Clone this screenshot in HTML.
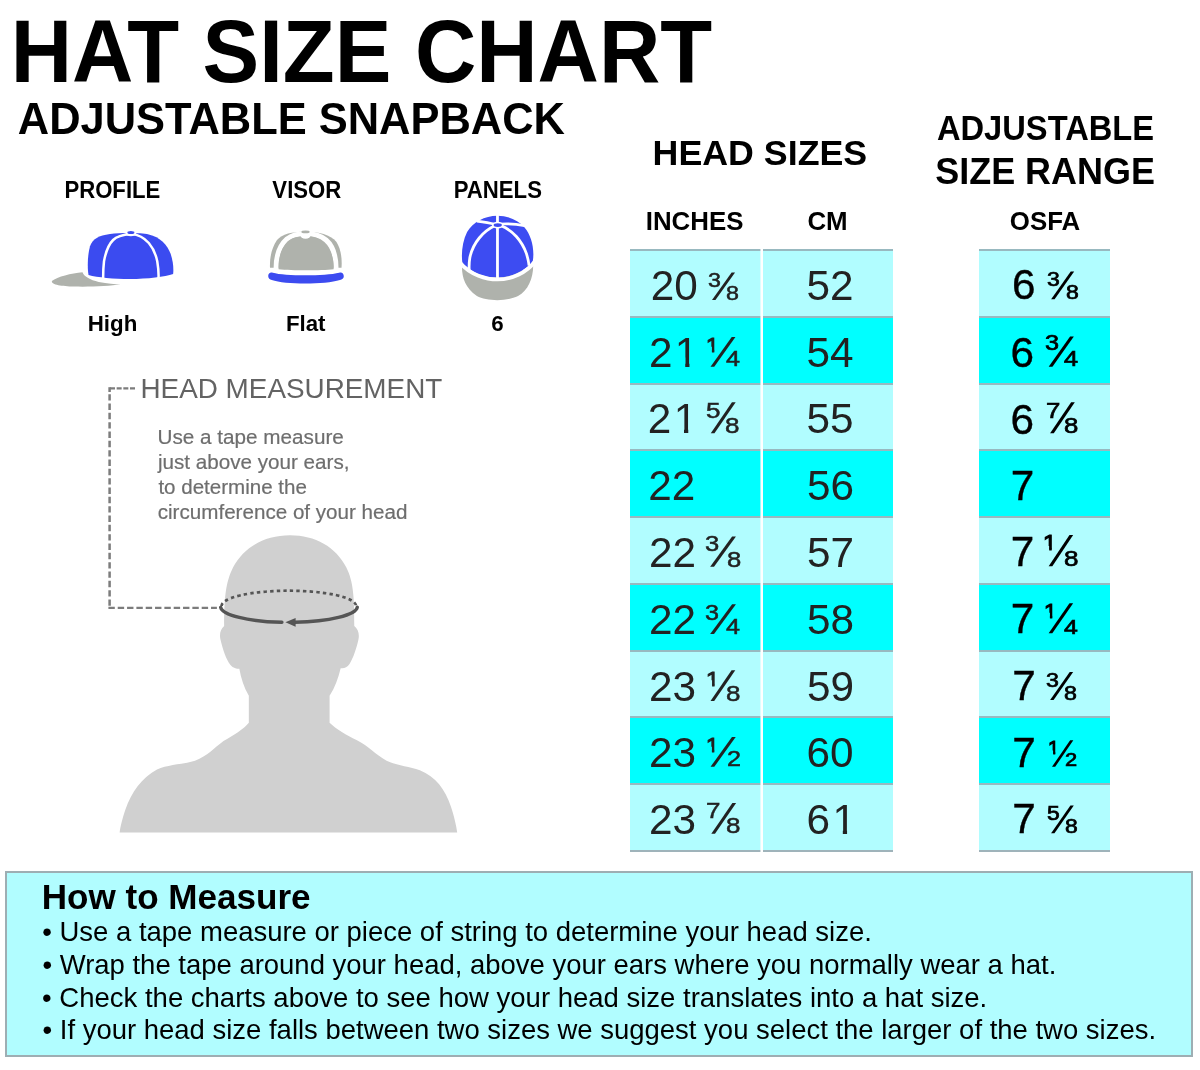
<!DOCTYPE html>
<html>
<head>
<meta charset="utf-8">
<title>Hat Size Chart</title>
<style>
html,body{margin:0;padding:0;background:#fff;}
body{width:1200px;height:1070px;position:relative;overflow:hidden;font-family:"Liberation Sans",sans-serif;color:#000;}
.t{position:absolute;white-space:nowrap;line-height:1;transform-origin:0 0;}
.b{font-weight:bold;}
.cell{position:absolute;border-top:2px solid #98b9c0;}
.cellb{position:absolute;height:2px;background:#9fb3ba;}
.l{background:#b1fdff;}
.d{background:#00ffff;}
.one{display:inline-block;position:relative;left:2.3px;clip-path:polygon(0 0,0.346em 0,0.346em 1em,0.246em 1em,0.246em 0.6em,0 0.6em);}
.onef{left:0;}
.fr{width:.834em;height:1em;}
.fr span{position:absolute;top:0;line-height:1;}
.fr .s1{clip-path:polygon(0 0,0.213em 0,0.213em 1em,0.135em 1em,0.135em 0.42em,0 0.42em);}
.fr .sl{left:0.3716em;}
.fr .dn{top:0.2739em;}
.fd{transform:scaleX(1.18);-webkit-text-stroke:0.5px;}
#page{position:absolute;left:0;top:0;width:1200px;height:1070px;will-change:transform;}
#box{position:absolute;left:5px;top:871px;width:1184px;height:182px;background:#b1fdff;border:2px solid #9eaeb3;}
</style>
</head>

<body>
<div id="page">
<svg id="gfx" width="1200" height="1070" viewBox="0 0 1200 1070" style="position:absolute;left:0;top:0;">
<!-- PROFILE icon: zoomed coords (8x) origin 40,220 -->
<g transform="translate(40,220) scale(0.125)">
  <path d="M95,487 C140,455 250,425 340,418 C350,450 400,480 470,495 C540,508 600,512 645,514 C560,528 400,536 270,532 C180,528 90,520 95,487 Z" fill="#afb2ac"/>
  <path d="M388,440 C378,380 380,280 400,210 C420,150 470,125 560,112 C640,102 800,100 870,115 C960,135 1020,200 1045,270 C1065,330 1070,390 1065,432 C1000,455 860,472 720,472 C590,472 460,460 388,440 Z" fill="#3b4bf0"/>
  <path d="M725,112 C660,118 610,135 585,160 C550,195 525,260 512,330 C506,380 505,430 505,468" fill="none" stroke="#fff" stroke-width="20"/>
  <path d="M730,110 C850,125 915,220 938,330 C948,390 950,430 948,466" fill="none" stroke="#fff" stroke-width="20"/>
  <ellipse cx="727" cy="108" rx="42" ry="22" fill="#fff"/>
  <ellipse cx="727" cy="100" rx="28" ry="12" fill="#3b4bf0"/>
</g>
<!-- VISOR icon: zoomed coords (10x) origin 245,220 -->
<g transform="translate(245,220) scale(0.1)">
  <path d="M250,478 C245,380 265,280 320,200 C370,140 470,118 605,118 C740,118 850,145 915,220 C960,290 972,390 965,478 Z" fill="#afb2ac"/>
  <path d="M312,520 C305,380 340,260 420,190 C470,150 540,135 605,135 C680,135 750,150 810,200 C890,270 915,390 910,520" fill="none" stroke="#fff" stroke-width="50"/>
  <path d="M336,492 C332,390 355,290 425,215 C470,175 520,165 560,170 C640,165 700,165 650,170 C700,165 760,190 810,250 C870,320 892,410 886,492 C760,506 470,506 336,492 Z" fill="#afb2ac"/>
  <ellipse cx="605" cy="142" rx="55" ry="46" fill="#fff"/>
  <ellipse cx="605" cy="119" rx="42" ry="13" fill="#afb2ac"/>
  <path d="M232,560 C232,530 255,518 278,527 C400,562 800,562 942,527 C965,518 988,530 988,562 C988,585 970,594 950,600 C800,647 400,647 268,600 C248,594 232,585 232,560 Z" fill="#3c4bf0"/>
</g>
<!-- PANELS icon: zoomed coords (10.7x) origin 447,205 -->
<g transform="translate(447,205) scale(0.09346)">
  <path d="M160,660 C160,780 200,890 320,975 C420,1030 640,1035 760,975 C870,915 925,780 922,640 C800,760 300,790 160,660 Z" fill="#afb2ac"/>
  <path d="M540,115 C400,118 280,180 215,290 C165,390 150,520 165,625 C260,730 420,775 540,775 C680,775 840,710 918,600 C940,470 900,320 830,240 C760,160 650,115 540,115 Z" fill="#3d4cf2"/>
  <path d="M140,618 C250,750 420,797 540,797 C690,797 850,728 945,600" fill="none" stroke="#fff" stroke-width="40"/>
  <path d="M540,100 L540,790" stroke="#fff" stroke-width="30" fill="none"/>
  <path d="M505,225 C390,280 280,400 245,560 C235,620 235,660 238,700" stroke="#fff" stroke-width="30" fill="none"/>
  <path d="M585,225 C700,270 800,380 850,520 C865,570 875,610 878,650" stroke="#fff" stroke-width="30" fill="none"/>
  <path d="M515,207 C460,192 400,182 320,172" stroke="#fff" stroke-width="30" fill="none"/>
  <path d="M572,204 C650,198 730,200 830,222" stroke="#fff" stroke-width="28" fill="none"/>
  <ellipse cx="543" cy="215" rx="62" ry="36" fill="#fff"/>
  <ellipse cx="543" cy="215" rx="44" ry="21" fill="#3d4cf2"/>
</g>
<!-- HEAD silhouette: zoomed coords (3.158x) origin 100,520 -->
<g transform="translate(100,520) scale(0.31667)">
  <path d="M600,48 C520,48 455,85 420,150 C398,195 392,240 392,335 C380,345 376,362 381,380 C388,410 398,440 412,458 C420,468 432,470 440,470 C445,500 455,530 470,555 L470,640 C455,660 420,680 390,698 C360,720 340,745 300,760 C260,772 215,772 180,788 C130,815 100,860 80,915 C70,945 64,970 62,987 L1128,987 C1125,965 1118,935 1108,905 C1090,850 1060,810 1010,790 C975,778 935,775 905,760 C870,742 850,715 810,695 C780,680 745,660 725,640 L725,555 C742,530 752,500 760,468 C770,470 780,466 788,455 C800,435 810,405 816,378 C820,360 815,345 803,335 C803,240 800,195 778,150 C745,85 680,48 600,48 Z" fill="#d0d0d0"/>
</g>
<!-- leader dashed line -->
<g fill="none" stroke="#7c7c7c" stroke-width="2.3">
<path d="M135,388.3 H108.4" stroke-dasharray="5,1.67"/>
<path d="M109.6,387.2 V392" stroke-width="2.5"/>
<path d="M109.6,394.2 V606.4" stroke-width="2.5" stroke-dasharray="6.4,2.93"/>
<path d="M108.4,607.8 H216.9" stroke-dasharray="6.4,2.93"/>
</g>
<!-- measuring ellipse -->
<path d="M221.6,606.2 A67.2,15.2 0 0 1 356,605.6" fill="none" stroke="#555" stroke-width="2.7" stroke-dasharray="3.4,3.2"/>
<path d="M220.7,607.3 A68.4,15.8 0 0 0 281.9,622.3" fill="none" stroke="#555" stroke-width="3.4" stroke-linecap="round"/>
<path d="M357.3,607.1 A68.4,15.8 0 0 1 295,622.2" fill="none" stroke="#555" stroke-width="3.4" stroke-linecap="round"/>
<path d="M285.4,622.3 L295.6,617.9 L295.6,626.7 Z" fill="#555"/>
</svg>

<div class="cell l" style="left:630px;top:249px;width:131px;height:65px;"></div>
<div class="cell l" style="left:763px;top:249px;width:130px;height:65px;"></div>
<div class="cell l" style="left:979px;top:249px;width:131px;height:65px;"></div>
<div class="cell d" style="left:630px;top:316px;width:131px;height:65px;"></div>
<div class="cell d" style="left:763px;top:316px;width:130px;height:65px;"></div>
<div class="cell d" style="left:979px;top:316px;width:131px;height:65px;"></div>
<div class="cell l" style="left:630px;top:383px;width:131px;height:64px;"></div>
<div class="cell l" style="left:763px;top:383px;width:130px;height:64px;"></div>
<div class="cell l" style="left:979px;top:383px;width:131px;height:64px;"></div>
<div class="cell d" style="left:630px;top:449px;width:131px;height:65px;"></div>
<div class="cell d" style="left:763px;top:449px;width:130px;height:65px;"></div>
<div class="cell d" style="left:979px;top:449px;width:131px;height:65px;"></div>
<div class="cell l" style="left:630px;top:516px;width:131px;height:65px;"></div>
<div class="cell l" style="left:763px;top:516px;width:130px;height:65px;"></div>
<div class="cell l" style="left:979px;top:516px;width:131px;height:65px;"></div>
<div class="cell d" style="left:630px;top:583px;width:131px;height:65px;"></div>
<div class="cell d" style="left:763px;top:583px;width:130px;height:65px;"></div>
<div class="cell d" style="left:979px;top:583px;width:131px;height:65px;"></div>
<div class="cell l" style="left:630px;top:650px;width:131px;height:64px;"></div>
<div class="cell l" style="left:763px;top:650px;width:130px;height:64px;"></div>
<div class="cell l" style="left:979px;top:650px;width:131px;height:64px;"></div>
<div class="cell d" style="left:630px;top:716px;width:131px;height:65px;"></div>
<div class="cell d" style="left:763px;top:716px;width:130px;height:65px;"></div>
<div class="cell d" style="left:979px;top:716px;width:131px;height:65px;"></div>
<div class="cell l" style="left:630px;top:783px;width:131px;height:65px;"></div>
<div class="cell l" style="left:763px;top:783px;width:130px;height:65px;"></div>
<div class="cell l" style="left:979px;top:783px;width:131px;height:65px;"></div>
<div class="cellb" style="left:630px;top:850px;width:131px;"></div>
<div class="cellb" style="left:763px;top:850px;width:130px;"></div>
<div class="cellb" style="left:979px;top:850px;width:131px;"></div>
<div style="position:absolute;left:760px;top:249px;width:1px;height:603px;background:rgba(255,255,255,.55);"></div>
<div id="box"></div>
<div class="t b" id="title" style="left:10.8px;top:7.75px;font-size:84.93px;transform:scale(1.0,1.0458);">HAT SIZE CHART</div>
<div class="t b" id="sub" style="left:17.79px;top:96.58px;font-size:43.46px;transform:scale(1.0,1.0293);">ADJUSTABLE SNAPBACK</div>
<div class="t b" id="profile" style="left:64.4px;top:178.6px;font-size:22.15px;transform:scale(1.0,1.048);">PROFILE</div>
<div class="t b" id="visor" style="left:272.37px;top:178.6px;font-size:22.15px;transform:scale(1.0,1.048);">VISOR</div>
<div class="t b" id="panels" style="left:453.75px;top:178.6px;font-size:22.15px;transform:scale(1.0,1.048);">PANELS</div>
<div class="t b" id="high" style="left:87.76px;top:313.2px;font-size:22.3px;">High</div>
<div class="t b" id="flat" style="left:285.92px;top:313.2px;font-size:22.3px;">Flat</div>
<div class="t b" id="six" style="left:491.35px;top:313.2px;font-size:22.3px;">6</div>
<div class="t" id="hm" style="left:140.46px;top:375.06px;font-size:27.87px;transform:scale(1.0,1.015);color:#636363;">HEAD MEASUREMENT</div>
<div class="t" id="d1" style="left:157.62px;top:427.1px;font-size:20.68px;color:#6e6e6e;-webkit-text-stroke:0.2px;">Use a tape measure</div>
<div class="t" id="d2" style="left:157.97px;top:451.8px;font-size:20.63px;color:#6e6e6e;-webkit-text-stroke:0.2px;">just above your ears,</div>
<div class="t" id="d3" style="left:158.41px;top:476.5px;font-size:20.56px;color:#6e6e6e;-webkit-text-stroke:0.2px;">to determine the</div>
<div class="t" id="d4" style="left:157.74px;top:502.4px;font-size:20.62px;color:#6e6e6e;-webkit-text-stroke:0.2px;">circumference of your head</div>
<div class="t b" id="hs" style="left:652.58px;top:135.95px;font-size:35.77px;transform:scale(1.0,0.9974);">HEAD SIZES</div>
<div class="t b" id="adj" style="left:936.91px;top:111.02px;font-size:32.68px;transform:scale(1.0,1.0563);">ADJUSTABLE</div>
<div class="t b" id="sr" style="left:935.21px;top:152.73px;font-size:35.96px;transform:scale(1.0,1.0441);">SIZE RANGE</div>
<div class="t b" id="inches" style="left:645.75px;top:208.3px;font-size:25.85px;transform:scale(1.0,1.026);">INCHES</div>
<div class="t b" id="cm" style="left:807.41px;top:208.3px;font-size:25.85px;transform:scale(1.0,1.026);">CM</div>
<div class="t b" id="osfa" style="left:1009.85px;top:208.3px;font-size:25.85px;transform:scale(1.0,1.026);">OSFA</div>
<div class="t b" id="htm" style="left:41.75px;top:878.5px;font-size:35.07px;">How to Measure</div>
<div class="t" id="b1" style="left:42.28px;top:918.2px;font-size:27.47px;">&bull; Use a tape measure or piece of string to determine your head size.</div>
<div class="t" id="b2" style="left:42.47px;top:950.8px;font-size:27.47px;">&bull; Wrap the tape around your head, above your ears where you normally wear a hat.</div>
<div class="t" id="b3" style="left:42.1px;top:983.6px;font-size:27.51px;">&bull; Check the charts above to see how your head size translates into a hat size.</div>
<div class="t" id="b4" style="left:42.55px;top:1016.4px;font-size:27.48px;">&bull; If your head size falls between two sizes we suggest you select the larger of the two sizes.</div>
<div class="t" id="in0" style="left:650.78px;top:264.99px;font-size:42.3px;color:#222;">20</div>
<div class="t fd" id="if0n" style="left:707.60px;top:270.62px;font-size:19.72px;color:#222;">3</div>
<div class="t fd" id="if0d" style="left:726.38px;top:283.57px;font-size:19.72px;color:#222;">8</div>
<div class="t" id="cn0" style="left:806.59px;top:264.99px;font-size:42.3px;color:#222;">52</div>
<div class="t" id="on0" style="left:1012.0px;top:264.19px;font-size:42.3px;-webkit-text-stroke:0.35px;">6</div>
<div class="t fd" id="of0n" style="left:1047.30px;top:270.15px;font-size:19.51px;-webkit-text-stroke:0.7px;">3</div>
<div class="t fd" id="of0d" style="left:1065.70px;top:283.48px;font-size:19.51px;-webkit-text-stroke:0.7px;">8</div>
<div class="t" id="in1" style="left:649.0px;top:332.2px;font-size:42.3px;color:#222;">2<span class="one">1</span></div>
<div class="t fd" id="if1n" style="left:706.08px;top:334.50px;font-size:20.34px;color:#222;-webkit-text-stroke:1.2px;"><span class="one onef">1</span></div>
<div class="t fd" id="if1d" style="left:726.44px;top:349.11px;font-size:21.34px;color:#222;">4</div>
<div class="t" id="cn1" style="left:806.59px;top:331.79px;font-size:42.3px;color:#222;">54</div>
<div class="t" id="on1" style="left:1010.4px;top:331.99px;font-size:42.3px;-webkit-text-stroke:0.35px;">6</div>
<div class="t fd" id="of1n" style="left:1044.50px;top:333.37px;font-size:21.43px;-webkit-text-stroke:0.7px;">3</div>
<div class="t fd" id="of1d" style="left:1063.66px;top:348.96px;font-size:21.43px;-webkit-text-stroke:0.7px;">4</div>
<div class="t" id="in2" style="left:647.8px;top:397.8px;font-size:42.3px;color:#222;">2<span class="one">1</span></div>
<div class="t fd" id="if2n" style="left:705.87px;top:399.73px;font-size:22.08px;color:#222;">5</div>
<div class="t fd" id="if2d" style="left:724.95px;top:414.95px;font-size:22.08px;color:#222;">8</div>
<div class="t" id="cn2" style="left:806.59px;top:398.39px;font-size:42.3px;color:#222;">55</div>
<div class="t" id="on2" style="left:1010.4px;top:398.99px;font-size:42.3px;-webkit-text-stroke:0.35px;">6</div>
<div class="t fd" id="of2n" style="left:1045.69px;top:399.84px;font-size:21.8px;-webkit-text-stroke:0.7px;">7</div>
<div class="t fd" id="of2d" style="left:1064.40px;top:415.09px;font-size:21.8px;-webkit-text-stroke:0.7px;">8</div>
<div class="t" id="in3" style="left:648.18px;top:465.4px;font-size:42.3px;color:#222;">22</div>
<div class="t" id="cn3" style="left:807.01px;top:464.99px;font-size:42.3px;color:#222;">56</div>
<div class="t" id="on3" style="left:1010.63px;top:465.4px;font-size:42.3px;-webkit-text-stroke:0.35px;">7</div>
<div class="t" id="in4" style="left:649.0px;top:532.2px;font-size:42.3px;color:#222;">22</div>
<div class="t fd" id="if4n" style="left:704.97px;top:533.26px;font-size:21.71px;color:#222;">3</div>
<div class="t fd" id="if4d" style="left:726.51px;top:548.70px;font-size:21.71px;color:#222;">8</div>
<div class="t" id="cn4" style="left:806.95px;top:531.79px;font-size:42.3px;color:#222;">57</div>
<div class="t" id="on4" style="left:1010.63px;top:531.2px;font-size:42.3px;-webkit-text-stroke:0.35px;">7</div>
<div class="t fd" id="of4n" style="left:1043.48px;top:533.20px;font-size:21.37px;-webkit-text-stroke:1.2px;"><span class="one onef">1</span></div>
<div class="t fd" id="of4d" style="left:1063.62px;top:548.25px;font-size:22.09px;-webkit-text-stroke:0.7px;">8</div>
<div class="t" id="in5" style="left:649.0px;top:598.8px;font-size:42.3px;color:#222;">22</div>
<div class="t fd" id="if5n" style="left:705.05px;top:602.52px;font-size:21.34px;color:#222;">3</div>
<div class="t fd" id="if5d" style="left:725.64px;top:617.31px;font-size:21.34px;color:#222;">4</div>
<div class="t" id="cn5" style="left:806.95px;top:599.19px;font-size:42.3px;color:#222;">58</div>
<div class="t" id="on5" style="left:1010.63px;top:598.2px;font-size:42.3px;-webkit-text-stroke:0.35px;">7</div>
<div class="t fd" id="of5n" style="left:1043.86px;top:600.57px;font-size:20.34px;-webkit-text-stroke:1.2px;"><span class="one onef">1</span></div>
<div class="t fd" id="of5d" style="left:1063.89px;top:615.87px;font-size:21.06px;-webkit-text-stroke:0.7px;">4</div>
<div class="t" id="in6" style="left:649.0px;top:665.59px;font-size:42.3px;color:#222;">23</div>
<div class="t fd" id="if6n" style="left:705.84px;top:667.59px;font-size:21.01px;color:#222;-webkit-text-stroke:1.2px;"><span class="one onef">1</span></div>
<div class="t fd" id="if6d" style="left:725.59px;top:683.21px;font-size:22.01px;color:#222;">8</div>
<div class="t" id="cn6" style="left:806.95px;top:665.59px;font-size:42.3px;color:#222;">59</div>
<div class="t" id="on6" style="left:1012.31px;top:665.4px;font-size:42.3px;-webkit-text-stroke:0.35px;">7</div>
<div class="t fd" id="of6n" style="left:1046.23px;top:670.50px;font-size:19.66px;-webkit-text-stroke:0.7px;">3</div>
<div class="t fd" id="of6d" style="left:1064.34px;top:683.56px;font-size:19.66px;-webkit-text-stroke:0.7px;">8</div>
<div class="t" id="in7" style="left:649.0px;top:732.39px;font-size:42.3px;color:#222;">23</div>
<div class="t fd" id="if7n" style="left:706.08px;top:734.50px;font-size:20.34px;color:#222;-webkit-text-stroke:1.2px;"><span class="one onef">1</span></div>
<div class="t fd" id="if7d" style="left:727.17px;top:749.11px;font-size:21.34px;color:#222;">2</div>
<div class="t" id="cn7" style="left:806.49px;top:732.39px;font-size:42.3px;color:#222;">60</div>
<div class="t" id="on7" style="left:1012.31px;top:732.2px;font-size:42.3px;-webkit-text-stroke:0.35px;">7</div>
<div class="t fd" id="of7n" style="left:1047.62px;top:739.84px;font-size:17.83px;-webkit-text-stroke:1.2px;"><span class="one onef">1</span></div>
<div class="t fd" id="of7d" style="left:1065.31px;top:751.40px;font-size:18.55px;-webkit-text-stroke:0.7px;">2</div>
<div class="t" id="in8" style="left:649.0px;top:798.99px;font-size:42.3px;color:#222;">23</div>
<div class="t fd" id="if8n" style="left:706.36px;top:800.14px;font-size:22.01px;color:#222;">7</div>
<div class="t fd" id="if8d" style="left:725.59px;top:815.01px;font-size:22.01px;color:#222;">8</div>
<div class="t" id="cn8" style="left:806.6px;top:798.99px;font-size:42.3px;color:#222;">6<span class="one">1</span></div>
<div class="t" id="on8" style="left:1012.31px;top:797.8px;font-size:42.3px;-webkit-text-stroke:0.35px;">7</div>
<div class="t fd" id="of8n" style="left:1046.84px;top:804.02px;font-size:19.43px;-webkit-text-stroke:0.7px;">5</div>
<div class="t fd" id="of8d" style="left:1065.24px;top:817.15px;font-size:19.43px;-webkit-text-stroke:0.7px;">8</div>
<svg width="1200" height="1070" viewBox="0 0 1200 1070" style="position:absolute;left:0;top:0;"><polygon points="711.99,300.10 715.44,300.10 735.06,272.40 731.61,272.40" fill="#222"/><polygon points="1051.14,299.30 1054.58,299.30 1074.16,271.50 1070.72,271.50" fill="#000"/><polygon points="710.52,366.80 714.24,366.80 735.46,336.90 731.74,336.90" fill="#222"/><polygon points="1048.66,366.80 1052.42,366.80 1073.84,336.40 1070.08,336.40" fill="#000"/><polygon points="710.77,433.20 714.49,433.20 735.68,402.30 731.96,402.30" fill="#222"/><polygon points="1050.09,433.20 1053.78,433.20 1074.81,402.30 1071.12,402.30" fill="#000"/><polygon points="710.15,566.80 714.00,566.80 735.95,536.40 732.10,536.40" fill="#222"/><polygon points="1048.66,566.30 1052.32,566.30 1073.15,535.00 1069.49,535.00" fill="#000"/><polygon points="710.15,634.10 714.00,634.10 735.95,604.20 732.10,604.20" fill="#222"/><polygon points="1048.66,633.20 1052.32,633.20 1073.15,603.30 1069.49,603.30" fill="#000"/><polygon points="710.50,701.00 714.20,701.00 735.29,670.20 731.59,670.20" fill="#222"/><polygon points="1050.14,700.10 1053.58,700.10 1073.16,672.10 1069.72,672.10" fill="#000"/><polygon points="710.54,766.80 714.30,766.80 735.72,736.90 731.96,736.90" fill="#222"/><polygon points="1051.99,766.80 1055.18,766.80 1073.32,740.30 1070.14,740.30" fill="#000"/><polygon points="711.30,833.70 715.01,833.70 736.10,802.90 732.39,802.90" fill="#222"/><polygon points="1051.09,833.20 1054.48,833.20 1073.81,805.50 1070.42,805.50" fill="#000"/></svg>
</div>
</body>
</html>
